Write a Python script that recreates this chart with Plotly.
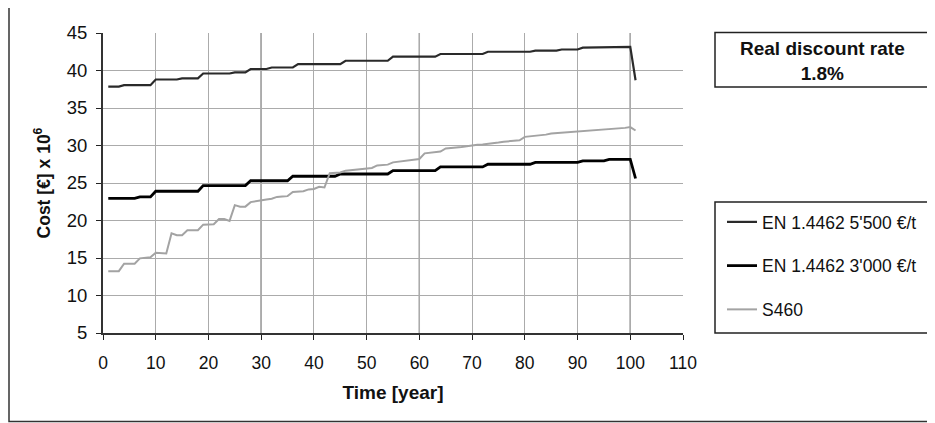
import plotly.graph_objects as go

years = list(range(1, 102))

en_5500 = (
    [37.85] * 3 + [38.05] * 6 + [38.8] * 5 + [38.95] * 4 + [39.6] * 6 + [39.75] * 3
    + [40.2] * 4 + [40.4] * 5 + [40.85] * 9 + [41.3] * 9 + [41.85] * 9 + [42.2] * 9
    + [42.5] * 9 + [42.65] * 5 + [42.8] * 4 + [43.05] * 9 + [43.15] + [38.7]
)

en_3000 = (
    [22.95] * 6 + [23.15] * 3 + [23.9] * 9 + [24.65] * 9 + [25.3] * 8 + [25.9] * 9
    + [26.2] * 10 + [26.65] * 9 + [27.15] * 9 + [27.5] * 9 + [27.75] * 9 + [27.95] * 5
    + [28.15] * 5 + [25.6]
)

s460 = [
    13.25, 13.25, 13.25, 14.25, 14.25, 14.25, 14.95, 15.0, 15.1, 15.7,
    15.7, 15.6, 18.3, 18.05, 18.05, 18.7, 18.7, 18.7, 19.45, 19.45,
    19.5, 20.2, 20.2, 19.95, 22.05, 21.85, 21.85, 22.45, 22.6, 22.75,
    22.8, 22.9, 23.15, 23.2, 23.25, 23.8, 23.85, 23.9, 24.15, 24.2,
    24.5, 24.4, 26.3, 26.35, 26.4, 26.65, 26.7, 26.75, 26.85, 26.9,
    27.0, 27.35, 27.4, 27.45, 27.75, 27.85, 27.9, 28.0, 28.1, 28.2,
    28.95, 29.0, 29.1, 29.2, 29.6, 29.65, 29.7, 29.8, 29.9, 30.05,
    30.1, 30.15, 30.2, 30.3, 30.4, 30.5, 30.55, 30.6, 30.7, 31.15,
    31.2, 31.3, 31.35, 31.45, 31.6, 31.65, 31.7, 31.75, 31.8, 31.85,
    31.9, 31.95, 32.0, 32.05, 32.1, 32.2, 32.2, 32.3, 32.35, 32.45,
    32.0,
]

series_names = ["EN 1.4462 5'500 €/t", "EN 1.4462 3'000 €/t", "S460"]
x_ticks = [0, 10, 20, 30, 40, 50, 60, 70, 80, 90, 100, 110]
y_ticks = [5, 10, 15, 20, 25, 30, 35, 40, 45]
dark_grid_x = [30, 60, 100]

FONT = "Liberation Sans, Arial, sans-serif"

fig = go.Figure()
fig.add_trace(go.Scatter(x=years, y=en_5500, mode="lines", name=series_names[0],
                         line=dict(color="#2a2a2a", width=2.2), legendgroup="a"))
fig.add_trace(go.Scatter(x=years, y=en_3000, mode="lines", name=series_names[1],
                         line=dict(color="#000000", width=2.8), legendgroup="b"))
fig.add_trace(go.Scatter(x=years, y=s460, mode="lines", name=series_names[2],
                         line=dict(color="#a3a3a3", width=2), legendgroup="c"))

# page offset from default body margin
OFF = 8
# plot area in page pixels: x 103..683, y 33..333
PL, PT, PW, PH = 103, 33, 580, 300
W, H = 935 - OFF, 423 - OFF
L, T = PL - OFF, PT - OFF
R = W - L - PW
B = H - T - PH


def px_x(p):
    return (p - PL) / PW


def px_y(p):
    return (PT + PH - p) / PH


shapes = []
for gx in dark_grid_x:
    shapes.append(dict(type="line", xref="x", yref="y", x0=gx, x1=gx, y0=5, y1=45,
                       line=dict(color="#5e5e5e", width=1.3), layer="below"))
# outer frame
shapes.append(dict(type="rect", xref="paper", yref="paper",
                   x0=px_x(9), x1=px_x(950), y0=px_y(421.5), y1=px_y(5),
                   line=dict(color="#333333", width=1.5)))
# text box
shapes.append(dict(type="rect", xref="paper", yref="paper",
                   x0=px_x(715), x1=px_x(929), y0=px_y(87), y1=px_y(32.5),
                   line=dict(color="#222222", width=1.5)))
# legend box
shapes.append(dict(type="rect", xref="paper", yref="paper",
                   x0=px_x(715), x1=px_x(929), y0=px_y(333), y1=px_y(202),
                   line=dict(color="#222222", width=1.5)))

fig.update_layout(
    width=W, height=H,
    margin=dict(l=L, r=R, t=T, b=B, pad=0),
    paper_bgcolor="white", plot_bgcolor="white",
    font=dict(family=FONT, size=17, color="#111111"),
    shapes=shapes,
    showlegend=True,
    legend=dict(x=px_x(722), y=px_y(204), xanchor="left", yanchor="top",
                bgcolor="rgba(0,0,0,0)", borderwidth=0,
                font=dict(family=FONT, size=17.5, color="#111111"),
                tracegroupgap=18, itemwidth=30),
    annotations=[dict(xref="paper", yref="paper", x=px_x(822), y=px_y(61),
                      text="<b>Real discount rate</b><br><b>1.8%</b>", showarrow=False,
                      font=dict(family=FONT, size=19, color="#111111"),
                      xanchor="center", yanchor="middle", align="center")],
    xaxis=dict(range=[0, 110], tickvals=x_ticks, ticks="outside", ticklen=5,
               tickcolor="#222222", showline=True, linecolor="#333333", linewidth=2,
               showgrid=True, gridcolor="#ababab", gridwidth=1, zeroline=False,
               tickfont=dict(size=17.5), ticklabelstandoff=8,
               title=dict(text="<b>Time [year]</b>", font=dict(size=19), standoff=14)),
    yaxis=dict(range=[5, 45], tickvals=y_ticks, ticks="outside", ticklen=5,
               tickcolor="#222222", showline=True, linecolor="#333333", linewidth=2,
               showgrid=True, gridcolor="#ababab", gridwidth=1, zeroline=False,
               tickfont=dict(size=18.5), ticklabelstandoff=5,
               title=dict(text="<b>Cost [€] x 10<sup>6</sup></b>", font=dict(size=17.5),
                          standoff=12)),
)

fig.write_html("out.html")
